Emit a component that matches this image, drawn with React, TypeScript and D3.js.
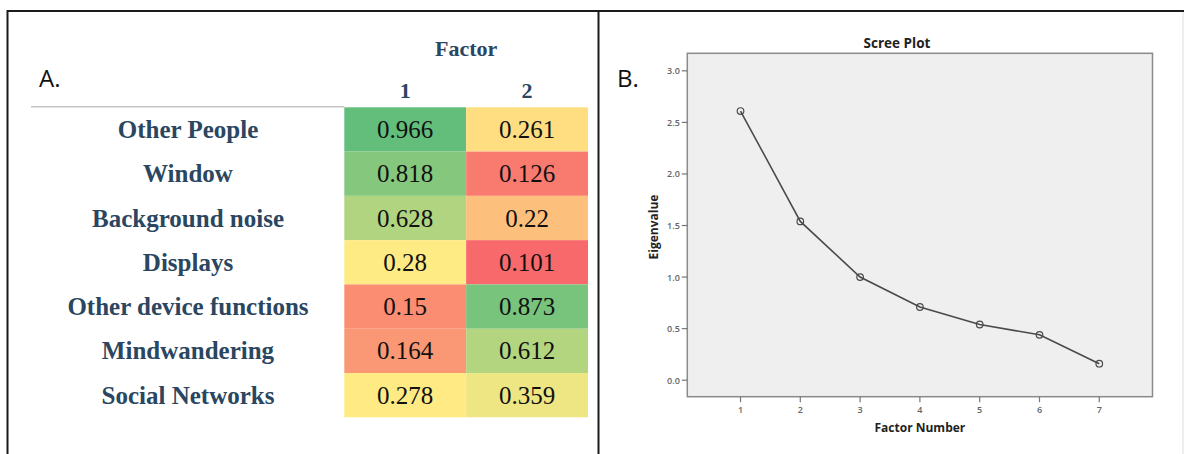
import * as d3 from "d3";

// panel A: factor loadings
const variables = [
  "Other People",
  "Window",
  "Background noise",
  "Displays",
  "Other device functions",
  "Mindwandering",
  "Social Networks",
];
const factorCols = ["1", "2"];
const factor1 = [0.966, 0.818, 0.628, 0.28, 0.15, 0.164, 0.278];
const factor2 = [0.261, 0.126, 0.22, 0.101, 0.873, 0.612, 0.359];

// panel B: scree plot
const factorNumbers = [1, 2, 3, 4, 5, 6, 7];
const eigenvalues = [2.61, 1.54, 1.0, 0.71, 0.54, 0.44, 0.16];
const yTicks = [0, 0.5, 1, 1.5, 2, 2.5, 3];

const W = 1184;
const H = 454;

export default function App() {
  const all = [...factor1, ...factor2];
  const color = d3
    .scaleLinear<string>()
    .domain([d3.min(all)!, d3.median(all)!, d3.max(all)!])
    .range(["#f8696b", "#ffeb84", "#63be7b"])
    .interpolate(d3.interpolateRgb);

  const rowY = d3.scaleBand().domain(variables).range([107.3, 417.3]);
  const colX = d3.scaleBand().domain(factorCols).range([344.3, 588]);
  const cols = [factor1, factor2];

  // scree plot scales
  const x = d3.scaleLinear().domain([0.11, 7.89]).range([687.3, 1152.5]);
  const y = d3.scaleLinear().domain([-0.16, 3.17]).range([396.7, 53.3]);
  const line = d3
    .line<number>()
    .x((_, i) => x(factorNumbers[i]))
    .y((d) => y(d));

  const labelColor = "#2a4660";
  const serif = "'Liberation Serif', 'Times New Roman', serif";
  const sans = "'Open Sans', 'Liberation Sans', sans-serif";

  return (
    <div style={{ position: "absolute", left: 0, top: 0 }}>
      <svg width={W} height={H} style={{ display: "block", background: "#fff" }}>
        {/* frame */}
        <g stroke="#1a1a1a" strokeWidth={2}>
          <line x1={7} x2={W} y1={11} y2={11} />
          <line x1={7.5} x2={7.5} y1={10} y2={H} />
          <line x1={598.5} x2={598.5} y1={10} y2={H} />
        </g>
        <line x1={1183} x2={1183} y1={12} y2={H} stroke="#ddd" strokeWidth={1} />

        {/* ---- panel A ---- */}
        <text x={39} y={77} fontFamily={sans} fontSize={24} dominantBaseline="central" fill="#111">
          A.
        </text>
        <text
          x={colX.range()[0] + (colX.range()[1] - colX.range()[0]) / 2}
          y={48}
          fontFamily={serif}
          fontWeight="bold"
          fontSize={22}
          textAnchor="middle"
          dominantBaseline="central"
          fill={labelColor}
        >
          Factor
        </text>
        {factorCols.map((c) => (
          <text
            key={c}
            x={colX(c)! + colX.bandwidth() / 2}
            y={90}
            fontFamily={serif}
            fontWeight="bold"
            fontSize={22}
            textAnchor="middle"
            dominantBaseline="central"
            fill={labelColor}
          >
            {c}
          </text>
        ))}
        <line x1={31} x2={colX.range()[0]} y1={106.8} y2={106.8} stroke="#c4c4c4" strokeWidth={1.5} />
        {variables.map((v, i) => (
          <g key={v}>
            <text
              x={188}
              y={rowY(v)! + rowY.bandwidth() / 2}
              fontFamily={serif}
              fontWeight="bold"
              fontSize={25}
              textAnchor="middle"
              dominantBaseline="central"
              fill={labelColor}
            >
              {v}
            </text>
            {factorCols.map((c, j) => (
              <g key={c}>
                <rect
                  x={colX(c)!}
                  y={rowY(v)!}
                  width={colX.bandwidth()}
                  height={rowY.bandwidth()}
                  fill={color(cols[j][i])}
                />
                <text
                  x={colX(c)! + colX.bandwidth() / 2}
                  y={rowY(v)! + rowY.bandwidth() / 2}
                  fontFamily={serif}
                  fontSize={25}
                  textAnchor="middle"
                  dominantBaseline="central"
                  fill="#111"
                >
                  {String(cols[j][i])}
                </text>
              </g>
            ))}
          </g>
        ))}

        {/* ---- panel B ---- */}
        <text x={617} y={77} fontFamily={sans} fontSize={24} dominantBaseline="central" fill="#111">
          B.
        </text>
        <text
          x={897}
          y={43}
          fontFamily={sans}
          fontWeight="bold"
          fontSize={13.5}
          textAnchor="middle"
          dominantBaseline="central"
          fill="#222"
        >
          Scree Plot
        </text>
        <rect
          x={x.range()[0]}
          y={y.range()[1]}
          width={x.range()[1] - x.range()[0]}
          height={y.range()[0] - y.range()[1]}
          fill="#efefef"
          stroke="#8a8a8a"
          strokeWidth={1.5}
        />
        {yTicks.map((t) => (
          <g key={t} transform={`translate(${x.range()[0]},${y(t)})`}>
            <line x1={-5.5} x2={0} stroke="#777" strokeWidth={1.2} />
            <text
              x={-7.5}
              fontFamily={sans}
              fontWeight={600}
              fontSize={9}
              textAnchor="end"
              dominantBaseline="central"
              fill="#666"
            >
              {t.toFixed(1)}
            </text>
          </g>
        ))}
        {factorNumbers.map((n) => (
          <g key={n} transform={`translate(${x(n)},${y.range()[0]})`}>
            <line y1={0} y2={5.5} stroke="#777" strokeWidth={1.2} />
            <text
              y={12.5}
              fontFamily={sans}
              fontWeight={600}
              fontSize={9}
              textAnchor="middle"
              dominantBaseline="central"
              fill="#666"
            >
              {n}
            </text>
          </g>
        ))}
        <text
          transform={`translate(653,${(y.range()[0] + y.range()[1]) / 2 + 2}) rotate(-90)`}
          fontFamily={sans}
          fontWeight="bold"
          fontSize={12}
          textAnchor="middle"
          dominantBaseline="central"
          fill="#222"
        >
          Eigenvalue
        </text>
        <text
          x={(x.range()[0] + x.range()[1]) / 2}
          y={427.5}
          fontFamily={sans}
          fontWeight="bold"
          fontSize={12}
          textAnchor="middle"
          dominantBaseline="central"
          fill="#222"
        >
          Factor Number
        </text>
        <path d={line(eigenvalues) ?? ""} fill="none" stroke="#4a4a4a" strokeWidth={1.6} />
        {eigenvalues.map((v, i) => (
          <circle
            key={i}
            cx={x(factorNumbers[i])}
            cy={y(v)}
            r={3.3}
            fill="none"
            stroke="#4a4a4a"
            strokeWidth={1.2}
          />
        ))}
      </svg>
    </div>
  );
}
